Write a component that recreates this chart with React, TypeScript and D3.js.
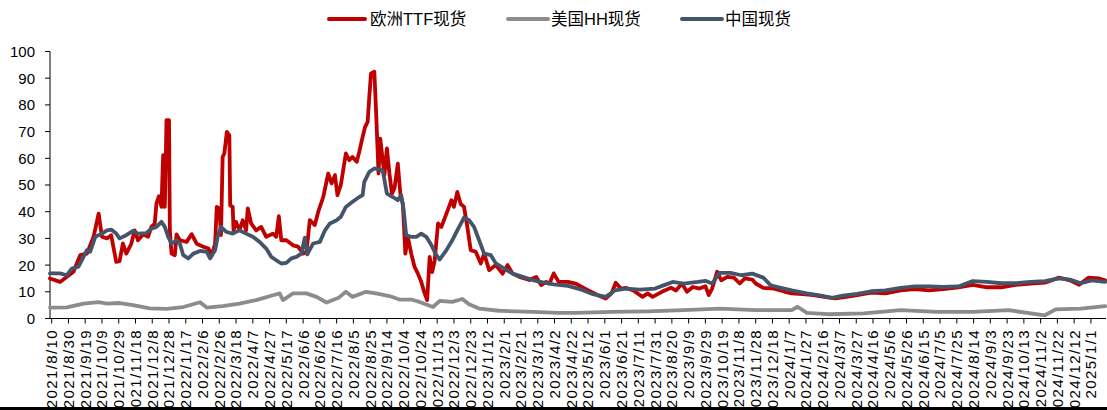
import React from "react";
import * as d3 from "d3";

// Day offsets are counted from 2021/8/10
const START = new Date(2021, 7, 10);

const ttfSeries: [number, number][] = [
  [-2,15.0],[10,13.7],[26,17.5],[34,23.7],[42,24.3],[50,30.6],[56,39.3],[60,30.6],[66,30],[71,31.2],[77,21.2],[81,21.5],[85,28.1],[89,24.3],[95,28],[99,33],[103,29.3],[109,31.5],[115,30.6],[119,34.3],[123,35.6],[125,43],[128,45.8],[131,41.8],[133,61.2],[135,41.8],[137,74.3],[140,74.3],[141,33],[143,24.3],[147,23.7],[149,31.5],[153,29.3],[161,28.7],[167,31.6],[173,28],[181,26.9],[187,26.2],[191,23.7],[195,28],[197,41.8],[200,41.2],[202,31.2],[204,60.5],[206,61.8],[209,69.9],[212,68.6],[213,42.4],[216,41.8],[217,33],[220,36.2],[224,33],[228,36.8],[232,33],[234,41.2],[238,35.6],[244,33],[250,34.3],[256,30.6],[264,31.8],[268,30.6],[271,38.3],[274,29.3],[280,29.3],[288,27.4],[294,26.9],[300,24.3],[304,25],[308,36.8],[314,35],[318,39.9],[324,45.5],[330,54.3],[334,50.6],[338,53.7],[341,46.2],[345,50],[351,61.8],[355,59.3],[359,60.5],[364,58.7],[367,62.4],[371,68],[374,71.8],[377,73.6],[379,83],[381,91.8],[385,92.4],[387,78],[390,54.3],[392,67.4],[395,59.3],[397,53.7],[400,63.7],[403,54.3],[406,46.8],[409,48.7],[413,58],[416,46.8],[419,43],[422,24.3],[425,30.6],[429,24.3],[433,19.3],[437,16.8],[441,13.7],[445,9.4],[448,6.9],[451,23.1],[454,17.4],[457,21.8],[461,35.6],[465,34.3],[471,39.3],[477,44.3],[480,41.8],[484,47.4],[488,42.9],[492,41.8],[496,34.3],[500,25.6],[506,25],[512,20.6],[516,24.3],[522,18.1],[530,20],[538,16.8],[544,20],[550,16.8],[558,15.6],[570,14.4],[578,15.6],[584,12.5],[590,13.7],[594,13.1],[599,16.9],[605,13.7],[616,13.7],[625,13.1],[638,10.9],[651,8.8],[661,7.5],[668,9.4],[673,13.4],[679,11.2],[685,11.5],[694,10.5],[705,8.1],[711,9.4],[717,8.1],[728,10],[739,11.5],[745,10.5],[752,13.1],[758,10],[765,11.8],[773,11.2],[780,12.1],[784,8.8],[788,11.2],[794,17.5],[799,14.3],[806,15.6],[814,15.3],[821,13.1],[827,15],[836,14.6],[840,13.1],[849,11.5],[862,11.2],[875,10],[883,9.4],[896,9.1],[909,8.8],[922,8.1],[935,7.5],[948,8.1],[961,8.8],[978,9.7],[995,9.4],[1013,10.5],[1030,11],[1047,10.5],[1064,11],[1082,11.7],[1099,12.6],[1116,11.7],[1133,11.7],[1150,12.6],[1168,13.1],[1185,13.4],[1202,15.3],[1215,14.3],[1226,12.6],[1237,15.3],[1250,15],[1257,14.3]
];

const hhSeries: [number, number][] = [
  [-2,4.1],[18,4.2],[38,5.6],[56,6.1],[66,5.6],[81,5.8],[97,5.0],[117,3.8],[137,3.6],[157,4.3],[177,6.1],[185,4.1],[204,4.6],[224,5.6],[244,6.9],[264,8.7],[272,9.4],[276,6.9],[288,9.4],[304,9.4],[316,8.1],[328,6.0],[343,7.9],[351,10],[359,8.1],[375,10],[387,9.4],[403,8.4],[415,7.1],[429,7.1],[439,6.2],[455,4.3],[463,6.6],[478,6.2],[490,7.3],[498,5.3],[510,3.7],[534,2.9],[574,2.5],[605,2.1],[625,2.1],[668,2.5],[711,2.7],[754,3.1],[797,3.7],[840,3.1],[883,3.1],[890,4.4],[901,2.1],[926,1.6],[969,1.9],[1013,3.1],[1056,2.5],[1099,2.5],[1142,3.1],[1185,1.2],[1198,3.4],[1228,3.7],[1257,4.6]
];

const chinaSeries: [number, number][] = [
  [-2,16.9],[10,16.9],[18,16.2],[24,18.7],[32,19.4],[38,23.1],[42,25.6],[46,25],[52,30.6],[60,31.8],[66,33],[71,33.3],[77,31.8],[81,30],[89,31.2],[97,32.8],[103,31.8],[113,32],[119,33.6],[125,34.3],[131,36.2],[135,34.3],[139,30.6],[143,28],[149,29.3],[153,28],[157,23.7],[163,22.5],[169,24.3],[177,25.3],[185,25],[189,22.5],[195,25.6],[198,30.6],[202,34.3],[208,32.5],[216,31.8],[224,33],[232,31.8],[240,30.6],[248,28.7],[256,26.2],[262,23.1],[268,21.8],[274,20.6],[280,20.8],[286,22.5],[292,23.1],[298,24.3],[302,30.3],[305,24],[312,28.1],[320,28.7],[326,33],[332,35.6],[340,36.8],[345,38.1],[351,41.8],[359,43.7],[367,45.5],[371,46.2],[373,51.2],[379,54.9],[385,56.2],[395,55.5],[400,46.8],[407,45.5],[413,44.3],[417,46.2],[420,40.6],[423,31.2],[429,30.6],[435,30.6],[441,31.8],[447,30.6],[453,27.5],[459,23.7],[463,22.1],[471,25.6],[478,29.3],[484,33],[492,37.8],[498,36.8],[504,34.3],[510,29.3],[516,24.3],[524,23.7],[530,20.6],[540,18.7],[550,16.8],[562,15.6],[574,14.4],[586,13.5],[599,12.8],[616,12.2],[633,10.7],[646,9.1],[661,8.1],[672,10.5],[685,11.2],[702,10.8],[720,11.2],[730,12.4],[741,13.7],[754,13.1],[771,13.7],[780,14.1],[788,13.1],[797,17.1],[810,17.1],[823,16.2],[836,16.8],[849,15.3],[858,12.4],[870,11.5],[883,10.5],[901,9.4],[918,8.6],[931,7.7],[944,8.6],[961,9.2],[978,10.2],[995,10.5],[1013,11.5],[1030,12],[1047,12],[1064,11.8],[1082,12],[1099,14],[1116,13.7],[1133,13.2],[1150,13.2],[1168,13.7],[1185,14],[1202,15],[1215,14.6],[1228,13.2],[1241,14.3],[1257,13.7]
];

const seriesNames = ["欧洲TTF现货", "美国HH现货", "中国现货"];
const seriesColors = ["#C00000", "#8C8C8C", "#44546A"];
const yTicks = [0, 10, 20, 30, 40, 50, 60, 70, 80, 90, 100];
const xTickStepDays = 20;
const xTickCount = 63;

const W = 1107;
const H = 410;

export default function App() {
  const dayToDate = (d: number) => d3.timeDay.offset(START, d);
  const x = d3
    .scaleTime()
    .domain([dayToDate(-2), dayToDate(1258)])
    .range([50, 1106]);
  const y = d3.scaleLinear().domain([0, 100]).range([318.5, 51.5]);

  const line = d3
    .line<[number, number]>()
    .x((p) => x(dayToDate(p[0])))
    .y((p) => y(p[1]));

  const fmt = d3.timeFormat("%Y/%-m/%-d");
  const xTicks = d3.range(xTickCount).map((i) => dayToDate(i * xTickStepDays));

  const legendItems = [
    { x0: 329, x1: 365, tx: 370 },
    { x0: 508, x1: 548, tx: 551 },
    { x0: 682, x1: 722, tx: 725 },
  ];
  const datasets = [ttfSeries, hhSeries, chinaSeries];
  const fontLatin = "'Liberation Sans', Arial, 'Noto Sans CJK SC', sans-serif";

  return (
    <svg
      width={W}
      height={H}
      style={{ position: "absolute", left: 0, top: 0, background: "#fff" }}
    >
      <rect x={0} y={0} width={W} height={H} fill="#fff" />
      {/* legend */}
      {legendItems.map((l, i) => (
        <g key={i}>
          <line
            x1={l.x0}
            x2={l.x1}
            y1={19}
            y2={19}
            stroke={seriesColors[i]}
            strokeWidth={4}
            strokeLinecap="round"
          />
          <text
            x={l.tx}
            y={19}
            dy="0.36em"
            fontSize={16.5}
            fontFamily={fontLatin}
            fill="#000"
          >
            {seriesNames[i]}
          </text>
        </g>
      ))}
      {/* y axis */}
      <line x1={50} x2={50} y1={y(100)} y2={y(0)} stroke="#000" strokeWidth={1} />
      {yTicks.map((t) => (
        <g key={t}>
          <line x1={45} x2={50} y1={y(t)} y2={y(t)} stroke="#000" />
          <text
            x={35}
            y={y(t)}
            dy="0.36em"
            textAnchor="end"
            fontSize={15}
            fontFamily={fontLatin}
            fill="#000"
          >
            {t}
          </text>
        </g>
      ))}
      {/* series: HH under, then TTF, China on top */}
      {[1, 0, 2].map((i) => (
        <path
          key={i}
          d={line(datasets[i]) || ""}
          fill="none"
          stroke={seriesColors[i]}
          strokeWidth={3.8}
          strokeLinejoin="round"
          strokeLinecap="round"
        />
      ))}
      {/* x axis */}
      <line x1={50} x2={1106} y1={y(0)} y2={y(0)} stroke="#000" />
      {xTicks.map((t, i) => (
        <g key={i}>
          <line x1={x(t)} x2={x(t)} y1={y(0)} y2={y(0) + 5} stroke="#000" />
          <text
            transform={`translate(${x(t)},329) rotate(-90)`}
            dy="0.36em"
            textAnchor="end"
            fontSize={15}
            letterSpacing={1.4}
            fontFamily={fontLatin}
            fill="#000"
          >
            {fmt(t)}
          </text>
        </g>
      ))}
      <rect x={0} y={407} width={W} height={3} fill="#000" />
    </svg>
  );
}
